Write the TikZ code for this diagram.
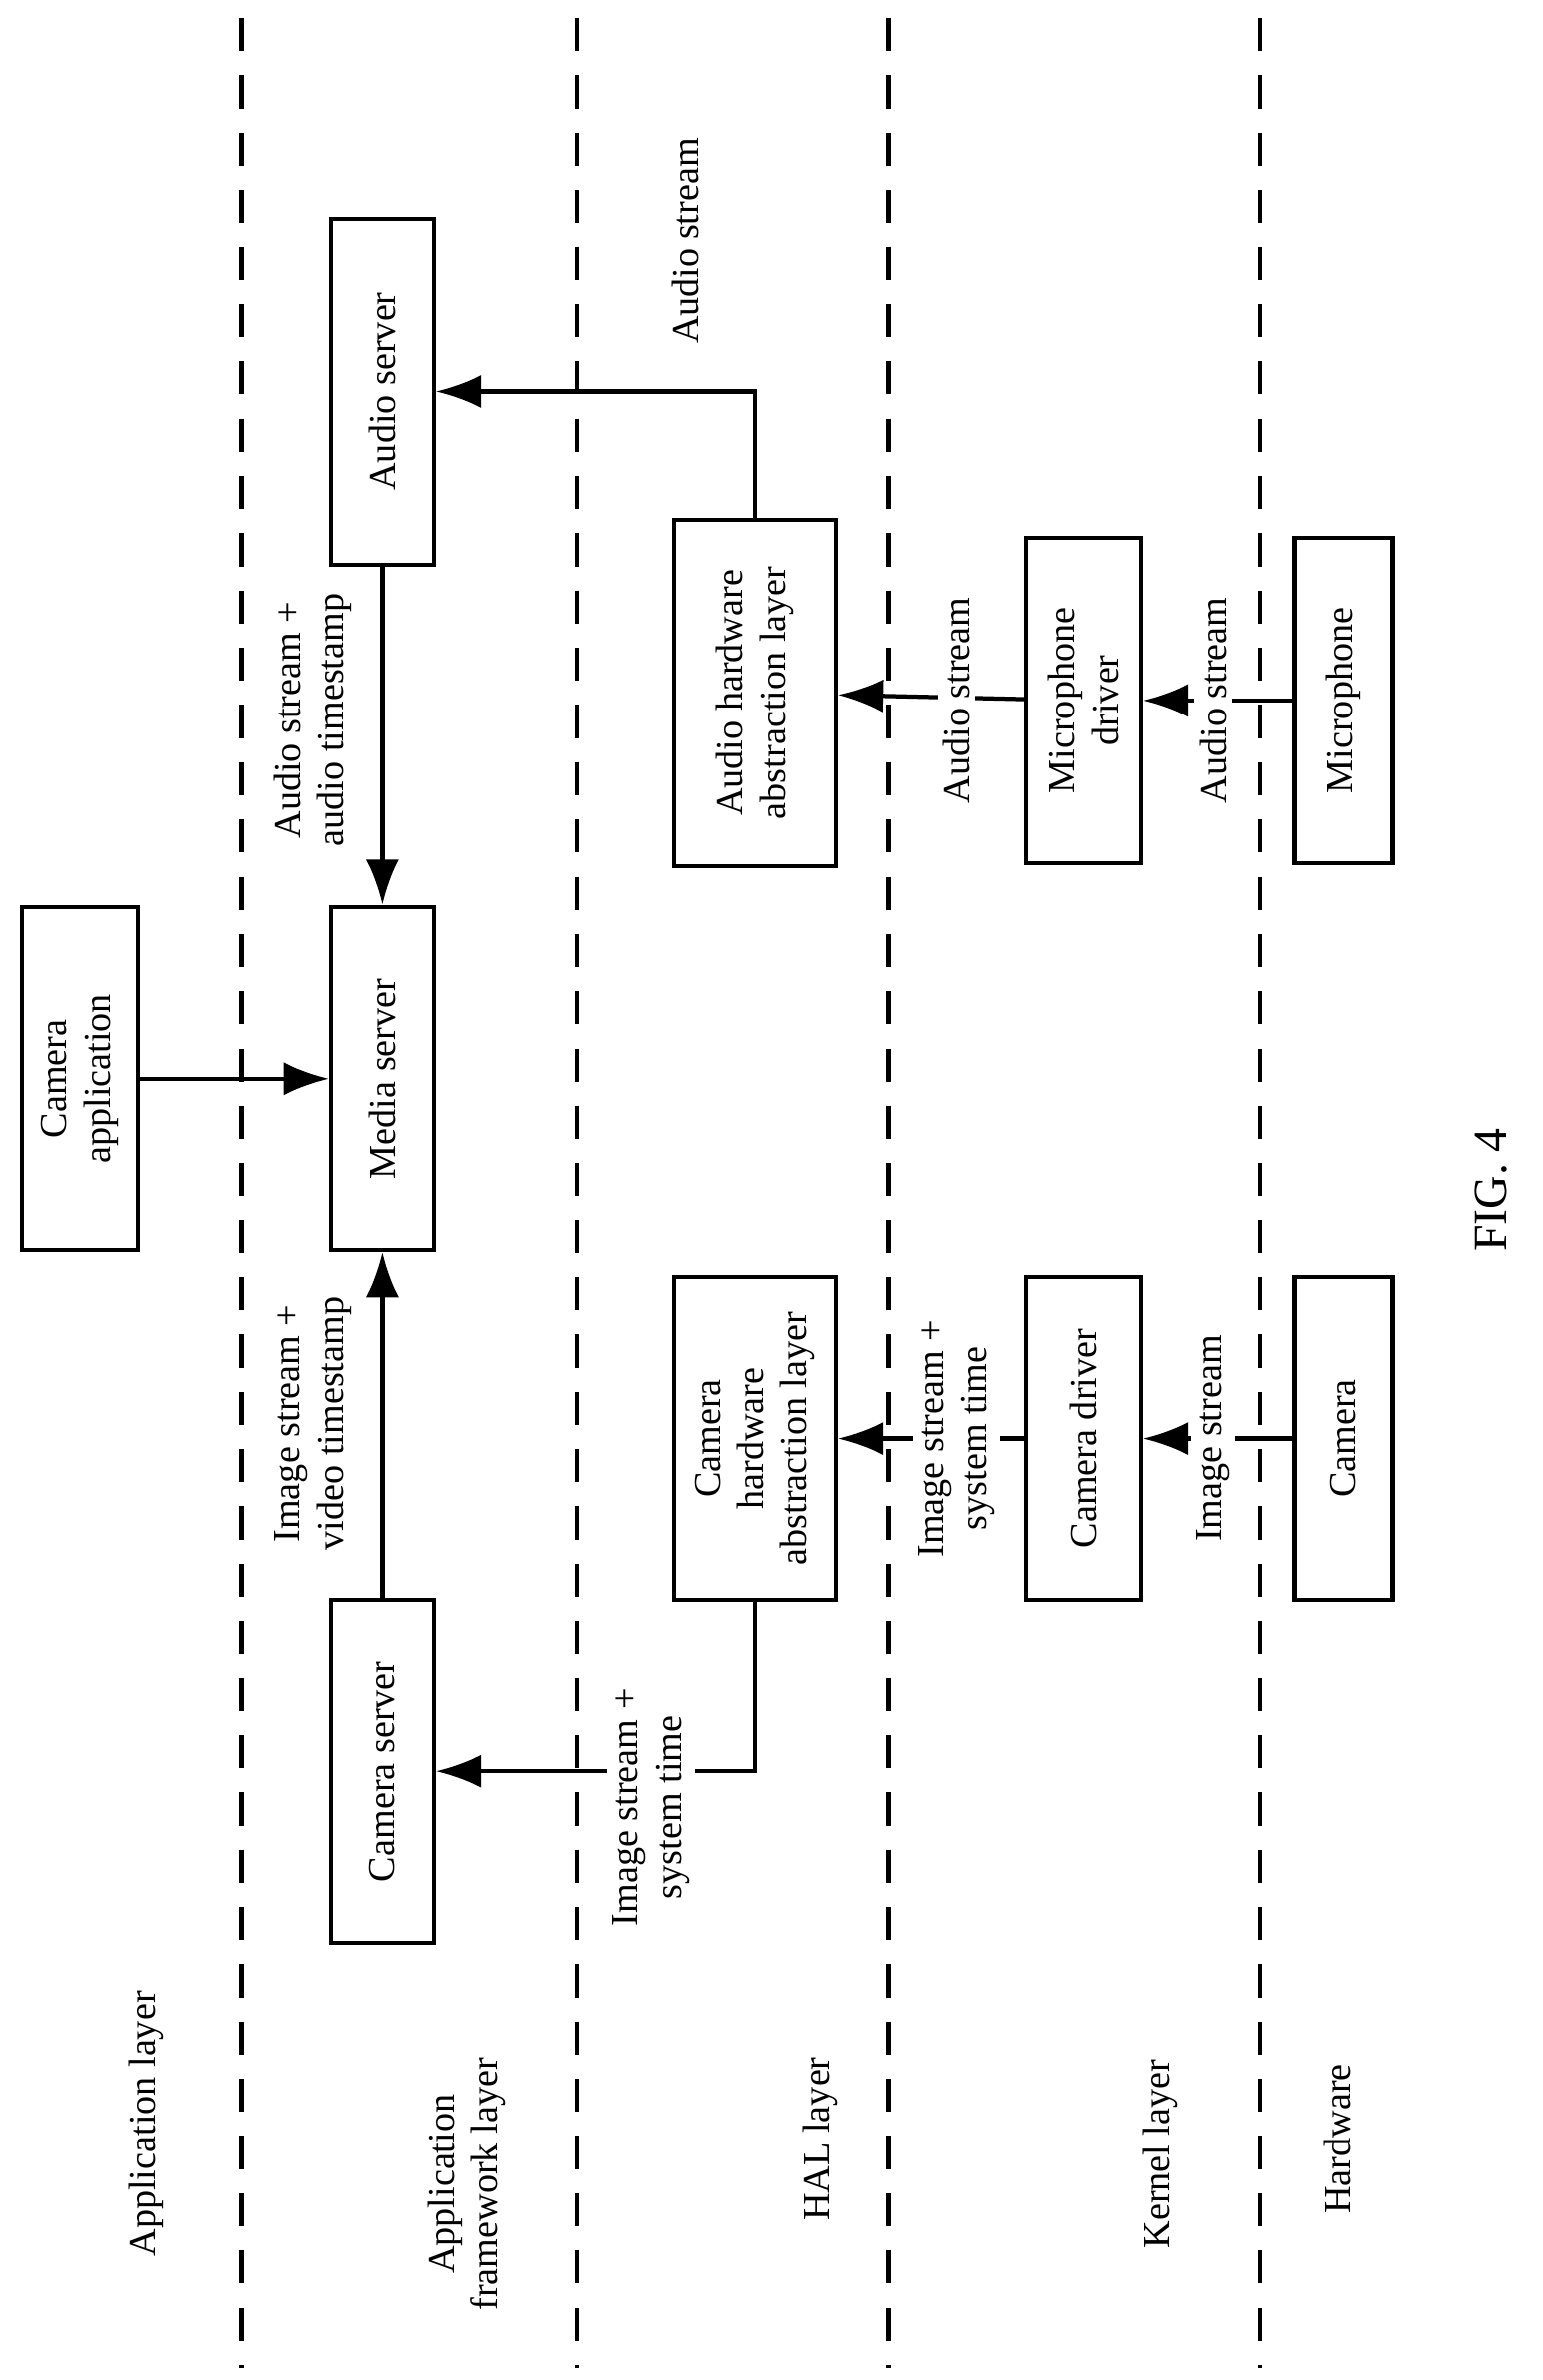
\documentclass[tikz,border=0pt]{standalone}
\usepackage{fontspec}
\setmainfont{Liberation Serif}
\usetikzlibrary{arrows.meta}
\tikzstyle{box} = [draw, thick, rotate=90, align=center, inner sep=0pt]
\tikzstyle{lbl} = [rotate=90, align=center, inner sep=1pt]
\tikzstyle{arr} = [draw, thick, -{Latex[length=3mm,width=2.2mm]}]
\tikzstyle{layer} = [draw, thick, dash pattern=on 2.2mm off 1.6mm]
\begin{document}
\begin{tikzpicture}[x=0.1mm, y=-0.1mm, font=\fontsize{7.2}{8.2}\selectfont]
  \useasboundingbox (0,0) rectangle (1024,1580);

  % Layer borders
  \foreach \x in {160, 383, 590, 836}
    \path[layer] (\x,12) -- (\x,1572);

  % Layer names
  \foreach \pos/\txt in {{(97,1410)/Application layer}, {(310,1450)/Application\\framework layer},
      {(545,1420)/HAL layer}, {(770,1430)/Kernel layer}, {(888,1420)/Hardware}}
    \node[lbl] at \pos {\txt};

  % Boxes
  \node[box, minimum width=22.8mm, minimum height=7.7mm] (capp) at (53,716) {Camera\\application};
  \node[box, minimum width=22.8mm, minimum height=6.8mm] (media) at (254,716) {Media server};
  \node[box, minimum width=23mm, minimum height=6.8mm] (aserv) at (254,260) {Audio server};
  \node[box, minimum width=22.8mm, minimum height=6.8mm] (cserv) at (254,1176) {Camera server};
  \node[box, minimum width=23mm, minimum height=10.8mm] (ahal) at (501,460) {Audio hardware\\abstraction layer};
  \node[box, minimum width=21.4mm, minimum height=10.8mm] (chal) at (501,955) {Camera\\hardware\\abstraction layer};
  \node[box, minimum width=21.6mm, minimum height=7.6mm] (mdrv) at (719,465) {Microphone\\driver};
  \node[box, minimum width=21.4mm, minimum height=7.6mm] (cdrv) at (719,955) {Camera driver};
  \node[box, minimum width=21.6mm, minimum height=6.5mm] (mic) at (892,465) {Microphone};
  \node[box, minimum width=21.4mm, minimum height=6.5mm] (cam) at (892,955) {Camera};

  % Connections
  \path[arr] (capp) -- (media);
  \path[arr] (aserv) -- (media);
  \path[arr] (cserv) -- (media);
  \path[arr] (ahal) |- (aserv);
  \path[arr] (chal) |- (cserv);
  \path[arr] (mic) -- (mdrv);
  \path[arr] (mdrv) -- (ahal);
  \path[arr] (cam) -- (cdrv);
  \path[arr] (cdrv) -- (chal);

  % Stream labels
  \node[lbl] at (455,160) {Audio stream};
  \node[lbl] at (208,478) {Audio stream +\\audio timestamp};
  \node[lbl] at (208,945) {Image stream +\\video timestamp};
  \node[lbl, fill=white] at (432,1200) {Image stream +\\system time};
  \node[lbl, fill=white] at (635,465) {Audio stream};
  \node[lbl, fill=white] at (805,465) {Audio stream};
  \node[lbl, fill=white] at (805,955) {Image stream};
  \node[lbl, fill=white] at (635,955) {Image stream +\\system time};

  \node[lbl, font=\fontsize{9}{10}\selectfont] at (990,790) {FIG. 4};
\end{tikzpicture}
\end{document}
